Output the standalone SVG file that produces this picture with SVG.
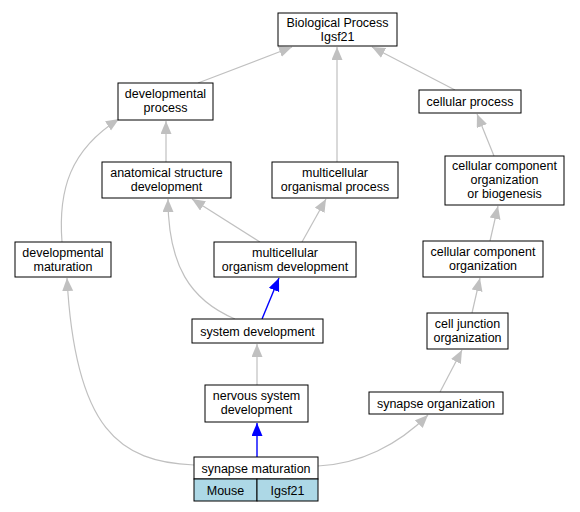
<svg xmlns="http://www.w3.org/2000/svg" width="580" height="512" viewBox="0 0 580 512">
<defs>
<style>
.n rect{fill:#fff;stroke:#000;stroke-width:1}
.n rect.b{fill:#add8e6}
text{font-family:"Liberation Sans",Arial,sans-serif;font-size:12.5px;text-anchor:middle;fill:#000}
.e path{fill:none;stroke:#c0c0c0;stroke-width:1.2}
.e path.bl{stroke:#0000ff;stroke-width:1.4}
</style>
<marker id="ag" markerUnits="userSpaceOnUse" markerWidth="14" markerHeight="12" refX="13" refY="5.5" orient="auto"><path d="M0,0 L13,5.5 L0,11 Z" fill="#c0c0c0"/></marker>
<marker id="ab" markerUnits="userSpaceOnUse" markerWidth="14" markerHeight="12" refX="13" refY="5.5" orient="auto"><path d="M0,0 L13,5.5 L0,11 Z" fill="#0000ff"/></marker>
</defs>
<rect width="580" height="512" fill="#fff"/>
<g class="e">
<path d="M198,83 L292,47" marker-end="url(#ag)"/>
<path d="M337,162 L337,47" marker-end="url(#ag)"/>
<path d="M455,90 L372,47" marker-end="url(#ag)"/>
<path d="M166,162 L166,121" marker-end="url(#ag)"/>
<path d="M62,242 C58,190 70,150 119,119" marker-end="url(#ag)"/>
<path d="M260,242 L192,199" marker-end="url(#ag)"/>
<path d="M302,242 L326,199" marker-end="url(#ag)"/>
<path d="M235,319 C190,300 168,265 168,199" marker-end="url(#ag)"/>
<path class="bl" d="M262,319 L279,278" marker-end="url(#ab)"/>
<path d="M257,385 L257,344" marker-end="url(#ag)"/>
<path class="bl" d="M257,457 L257,423" marker-end="url(#ab)"/>
<path d="M194,465 C120,462 75,430 67,278" marker-end="url(#ag)"/>
<path d="M318,466 C360,464 398,445 428,415" marker-end="url(#ag)"/>
<path d="M440,392 L462,350" marker-end="url(#ag)"/>
<path d="M472,313 L480,278" marker-end="url(#ag)"/>
<path d="M490,241 L498,206" marker-end="url(#ag)"/>
<path d="M494,156 L477,114" marker-end="url(#ag)"/>
</g>
<g id="bp" class="n"><rect x="278" y="13" width="119" height="33"/><text x="337.5" y="26.5">Biological Process</text><text x="337.5" y="40.5">Igsf21</text></g>
<g id="devproc" class="n"><rect x="118" y="83" width="95" height="37"/><text x="165.5" y="98">developmental</text><text x="165.5" y="112">process</text></g>
<g id="cellproc" class="n"><rect x="419" y="90" width="102" height="23"/><text x="470" y="106">cellular process</text></g>
<g id="asd" class="n"><rect x="102" y="162" width="129" height="36"/><text x="166.5" y="177">anatomical structure</text><text x="166.5" y="191">development</text></g>
<g id="mop" class="n"><rect x="272" y="162" width="126" height="36"/><text x="335" y="177">multicellular</text><text x="335" y="191">organismal process</text></g>
<g id="ccob" class="n"><rect x="445" y="156" width="119" height="49"/><text x="504.5" y="169.5">cellular component</text><text x="504.5" y="183.5">organization</text><text x="504.5" y="197.5">or biogenesis</text></g>
<g id="devmat" class="n"><rect x="15" y="242" width="96" height="35"/><text x="63" y="256.5">developmental</text><text x="63" y="270.5">maturation</text></g>
<g id="mod" class="n"><rect x="214" y="242" width="142" height="35"/><text x="285" y="256.5">multicellular</text><text x="285" y="270.5">organism development</text></g>
<g id="cco" class="n"><rect x="423" y="241" width="120" height="36"/><text x="483" y="256">cellular component</text><text x="483" y="270">organization</text></g>
<g id="sysdev" class="n"><rect x="192" y="319" width="131" height="24"/><text x="257.5" y="335.5">system development</text></g>
<g id="cjo" class="n"><rect x="427" y="313" width="81" height="36"/><text x="467.5" y="328">cell junction</text><text x="467.5" y="342">organization</text></g>
<g id="nsd" class="n"><rect x="205" y="385" width="103" height="37"/><text x="256.5" y="400">nervous system</text><text x="256.5" y="414">development</text></g>
<g id="synorg" class="n"><rect x="369" y="392" width="134" height="22"/><text x="436" y="407.5">synapse organization</text></g>
<g id="synmat" class="n"><rect x="194" y="457" width="124" height="22"/><text x="256" y="472.5">synapse maturation</text><rect class="b" x="194" y="479" width="63" height="22"/><text x="225.5" y="494.5">Mouse</text><rect class="b" x="257" y="479" width="61" height="22"/><text x="287.5" y="494.5">Igsf21</text></g>
</svg>
